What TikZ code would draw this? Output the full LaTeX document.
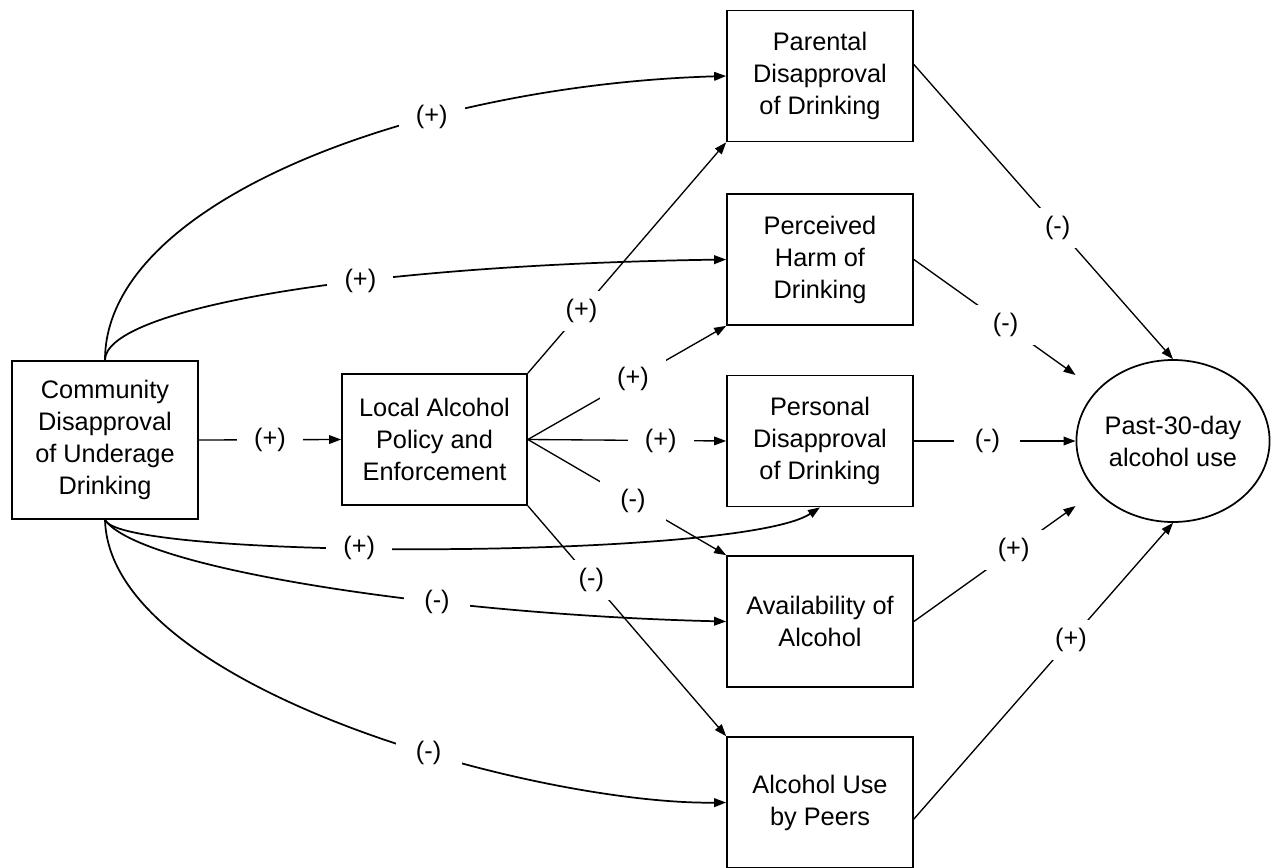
\documentclass[tikz,border=0pt]{standalone}
\usepackage{fontspec}
\setmainfont{Liberation Sans}
\usetikzlibrary{arrows.meta,shapes.geometric,calc}
\begin{document}
\begin{tikzpicture}[x=0.75pt,y=-0.75pt,
  txt/.style={font=\fontsize{19pt}{24pt}\selectfont},
  box/.style={txt,draw,line width=1.3pt,minimum width=139.5pt,minimum height=98.25pt,inner sep=0pt,align=center},
  lab/.style={txt,fill=white,inner sep=0pt,minimum width=49.5pt,minimum height=30pt},
  arr/.style={line width=1pt,-{Triangle[length=9pt,width=6.5pt]}},
  carr/.style={line width=1.3pt,-{Triangle[length=9pt,width=6.5pt]}}]
\useasboundingbox (0,0) rectangle (1277,867);
\node[box,minimum height=118.5pt] (C) at (105,440) {Community\\Disapproval\\of Underage\\Drinking};
\node[box,minimum width=138.75pt] (L) at (434.5,439.5) {Local Alcohol\\Policy and\\Enforcement};
\node[box] (Par) at (820,76) {Parental\\Disapproval\\of Drinking};
\node[box] (Harm) at (820,259.5) {Perceived\\Harm of\\Drinking};
\node[box] (Pers) at (820,441) {Personal\\Disapproval\\of Drinking};
\node[box] (Av) at (820,621.5) {Availability of\\Alcohol};
\node[box] (Peer) at (820,802.5) {Alcohol Use\\by Peers};
\node[txt,draw,ellipse,line width=1.3pt,minimum width=144.75pt,minimum height=121.5pt,inner sep=0pt,align=center] (E) at (1173,441) {Past-30-day\\alcohol use};
\coordinate (eH) at ($(E.west)+(0,-66)$);
\coordinate (eA) at ($(E.west)+(0,65)$);
% community
\draw[arr] (C.east) -- (L.west) node[lab,pos=0.5] {(+)};
\draw[carr] (C.north) .. controls (105,200) and (420,85) .. (Par.west) node[lab,pos=0.67] {(+)};
\draw[carr] (C.north) .. controls (105,310) and (350,265) .. (Harm.west) node[lab,pos=0.62] {(+)};
\draw[carr] (C.south) .. controls (120,560) and (740,560) .. (Pers.south) node[lab,pos=0.42] {(+)};
\draw[carr] (C.south) .. controls (140,570) and (450,615) .. (Av.west) node[lab,pos=0.65] {(-)};
\draw[carr] (C.south) .. controls (110,690) and (540,805) .. (Peer.west) node[lab,pos=0.6] {(-)};
% local policy
\draw[arr] (L.north east) -- (Par.south west) node[lab,pos=0.27] {(+)};
\draw[arr] (L.east) -- (Harm.south west) node[lab,pos=0.53] {(+)};
\draw[arr] (L.east) -- (Pers.west) node[lab,pos=0.67] {(+)};
\draw[arr] (L.east) -- (Av.north west) node[lab,pos=0.53] {(-)};
\draw[arr] (L.south east) -- (Peer.north west) node[lab,pos=0.32] {(-)};
% outcome
\draw[arr] (Par.7) -- (E.north) node[lab,pos=0.555] {(-)};
\draw[arr] (Harm.east) -- (eH) node[lab,pos=0.567] {(-)};
\draw[arr] (Pers.east) -- (E.west) node[lab,pos=0.455] {(-)};
\draw[arr] (Av.east) -- (eA) node[lab,pos=0.617] {(+)};
\draw[arr] (Peer.-10) -- (E.south) node[lab,pos=0.606] {(+)};
\end{tikzpicture}
\end{document}
